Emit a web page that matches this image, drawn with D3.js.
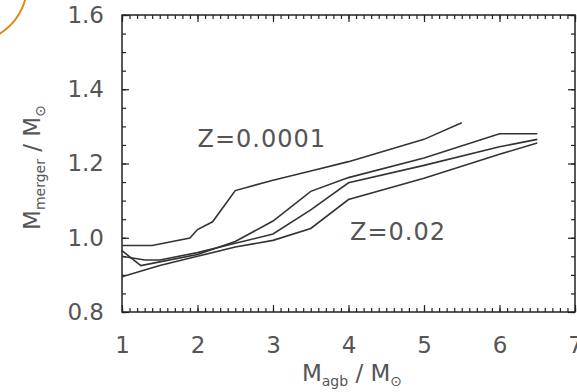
<!DOCTYPE html>
<html><head><meta charset="utf-8">
<script src="https://cdn.jsdelivr.net/npm/d3@7"></script>
<style>body{margin:0;background:#fff;}svg{display:block;}</style>
</head><body>
<script>
// Data
const massA = [1.0, 1.4, 1.9, 2.0, 2.2, 2.5, 3.0, 3.5, 4.0, 4.5, 5.0, 5.5];
const mergerA = [0.979, 0.979, 0.999, 1.022, 1.043, 1.127, 1.155, 1.18, 1.205, 1.235, 1.265, 1.31];
const massB = [1.0, 1.25, 1.5, 2.0, 2.5, 3.0, 3.5, 4.0, 5.0, 6.0, 6.5];
const mergerB = [0.965, 0.925, 0.935, 0.955, 0.99, 1.045, 1.125, 1.162, 1.215, 1.28, 1.28];
const massC = [1.0, 1.3, 1.5, 2.0, 2.5, 3.0, 3.5, 4.0, 5.0, 6.0, 6.5];
const mergerC = [0.95, 0.94, 0.94, 0.96, 0.985, 1.01, 1.075, 1.148, 1.195, 1.245, 1.265];
const massD = [1.0, 1.5, 2.0, 2.5, 3.0, 3.5, 4.0, 5.0, 6.0, 6.5];
const mergerD = [0.895, 0.925, 0.95, 0.975, 0.993, 1.025, 1.103, 1.16, 1.225, 1.255];
const xTicks = [1, 2, 3, 4, 5, 6, 7];
const yTicks = [0.8, 1.0, 1.2, 1.4, 1.6];
const labels = [{text: "Z=0.0001", x: 2.0, y: 1.244}, {text: "Z=0.02", x: 4.02, y: 0.994}];

const W = 577, H = 392;
const svg = d3.select("body").append("svg").attr("width", W).attr("height", H);
const x = d3.scaleLinear().domain([1, 7]).range([122, 575]);
const y = d3.scaleLinear().domain([0.8, 1.6]).range([312, 15]);
const ink = "#222", txt = "#555";
const font = "DejaVu Sans, sans-serif";

// orange arc in corner
svg.append("path")
  .attr("d", d3.arc()({innerRadius: 57, outerRadius: 57, startAngle: Math.PI * 0.3, endAngle: Math.PI * 0.95}))
  .attr("transform", "translate(-30,-15)")
  .attr("fill", "none").attr("stroke", "#d98c1a").attr("stroke-width", 2);

const xMinor = d3.range(10, 71).map(d => d / 10);
const yMinor = d3.range(16, 33).map(d => d / 20);

function addAxis(axisGen, tr) {
  const g = svg.append("g").attr("transform", tr).call(axisGen);
  g.select(".domain").remove();
  g.selectAll("line").attr("stroke", ink).attr("stroke-width", 1.2);
  return g;
}
// minor ticks
addAxis(d3.axisBottom(x).tickValues(xMinor).tickSize(-4).tickFormat(""), `translate(0,${y(0.8)})`);
addAxis(d3.axisTop(x).tickValues(xMinor).tickSize(-4).tickFormat(""), `translate(0,${y(1.6)})`);
addAxis(d3.axisLeft(y).tickValues(yMinor).tickSize(-4).tickFormat(""), `translate(${x(1)},0)`);
addAxis(d3.axisRight(y).tickValues(yMinor).tickSize(-4).tickFormat(""), `translate(${x(7)},0)`);
// major ticks
const xb = addAxis(d3.axisBottom(x).tickValues(xTicks).tickSize(-7).tickPadding(25).tickFormat(d3.format("d")), `translate(0,${y(0.8)})`);
addAxis(d3.axisTop(x).tickValues(xTicks).tickSize(-7).tickFormat(""), `translate(0,${y(1.6)})`);
const yl = addAxis(d3.axisLeft(y).tickValues(yTicks).tickSize(-7).tickPadding(18).tickFormat(d3.format(".1f")), `translate(${x(1)},0)`);
addAxis(d3.axisRight(y).tickValues(yTicks).tickSize(-7).tickFormat(""), `translate(${x(7)},0)`);
[xb, yl].forEach(g => g.selectAll("text").attr("font-family", font).attr("font-size", 23).attr("fill", txt));

// frame
svg.append("rect").attr("x", x(1)).attr("y", y(1.6)).attr("width", x(7) - x(1)).attr("height", y(0.8) - y(1.6))
  .attr("fill", "none").attr("stroke", ink).attr("stroke-width", 1.5);

// lines
const line = d3.line().x(d => x(d[0])).y(d => y(d[1]));
[[massA, mergerA], [massB, mergerB], [massC, mergerC], [massD, mergerD]].forEach(([m, v]) => {
  svg.append("path").datum(m.map((d, i) => [d, v[i]]))
    .attr("d", line).attr("fill", "none").attr("stroke", "#333").attr("stroke-width", 1.6);
});

// annotations
labels.forEach(l => {
  svg.append("text").attr("x", x(l.x)).attr("y", y(l.y)).text(l.text)
    .attr("font-family", font).attr("font-size", 24).attr("fill", txt).attr("letter-spacing", 1);
});

// axis titles
const xt = svg.append("text").attr("x", 352).attr("y", 381).attr("text-anchor", "middle")
  .attr("font-family", font).attr("font-size", 23).attr("fill", txt);
xt.append("tspan").text("M");
xt.append("tspan").text("agb").attr("font-size", 14).attr("dy", 5);
xt.append("tspan").text(" / M").attr("dy", -5);
xt.append("tspan").text("⊙").attr("font-size", 14).attr("dy", 5);

const yt = svg.append("text").attr("transform", `translate(40,${y(1.2) + 4}) rotate(-90)`).attr("text-anchor", "middle")
  .attr("font-family", font).attr("font-size", 23).attr("fill", txt);
yt.append("tspan").text("M");
yt.append("tspan").text("merger").attr("font-size", 14).attr("dy", 5);
yt.append("tspan").text(" / M").attr("dy", -5);
yt.append("tspan").text("⊙").attr("font-size", 14).attr("dy", 5);
</script>
</body></html>
